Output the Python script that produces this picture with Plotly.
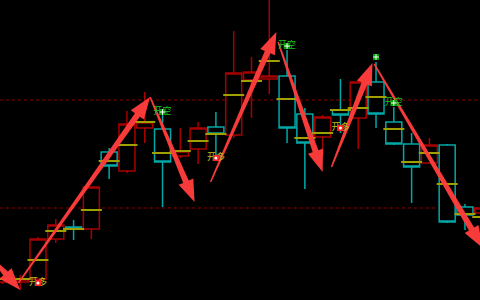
import numpy as np
import plotly.graph_objects as go

# ---- data (bar index, prices) ----
bars = list(range(1, 29))
opens  = [18, 18, 21, 61, 73, 71, 148, 129, 172, 171, 144, 151, 173, 165, 220, 221, 224, 186, 163, 190, 182, 218, 178, 156, 137, 155, 93, 87]
highs  = [24, 25, 63, 81, 80, 114, 152, 189, 208, 185, 172, 178, 188, 269, 243, 310, 250, 192, 185, 221, 220, 238, 193, 167, 162, 156, 96, 95]
lows   = [16, 10, 20, 57, 60, 61, 121, 127, 157, 93, 142, 136, 143, 162, 182, 206, 157, 111, 145, 167, 151, 172, 155, 97, 136, 77, 70, 84]
closes = [22, 21, 61, 75, 72, 113, 134, 176, 178, 138, 149, 172, 166, 227, 228, 224, 172, 157, 183, 185, 218, 186, 156, 133, 155, 78, 85, 92]
mid_line = [21, 21, 40, 69, 71, 90, 139, 155, 178, 147, 149, 159, 166, 205, 219, 239, 201, 162, 167, 190, 192, 203, 171, 138, 147, 116, 86, 83]

levels = [200, 92]

long_bars = [3, 13, 20]
long_prices = [17, 142, 172]
short_bars = [10, 17, 23]
short_prices = [188, 254, 197]
extra_short_bars = [22]
extra_short_prices = [243]

arrow_x0 = [0.4, 1.9, 9.3, 12.7, 16.5, 19.5, 21.9]
arrow_p0 = [42, 17, 203, 118, 258, 133, 236]
arrow_x1 = [2.0, 9.3, 11.8, 16.4, 19.0, 21.8, 28.0]
arrow_p1 = [10, 203, 98, 268, 128, 237, 52]

# ---- layout geometry ----
W, H = 480, 300
XR = [0.864, 27.845]
YR = [0, 300]

def to_px(x, p):
    return ((x - XR[0]) / (XR[1] - XR[0]) * W, (p - YR[0]) / (YR[1] - YR[0]) * H)

def from_px(px, py):
    return (XR[0] + px / W * (XR[1] - XR[0]), YR[0] + py / H * (YR[1] - YR[0]))

fig = go.Figure()

fig.add_trace(go.Candlestick(
    x=bars, open=opens, high=highs, low=lows, close=closes,
    increasing=dict(line=dict(color='#a80000', width=1.5), fillcolor='#000000'),
    decreasing=dict(line=dict(color='#00a8a8', width=1.5), fillcolor='#000000'),
    whiskerwidth=0, hoverinfo='skip', showlegend=False))

fig.add_trace(go.Scatter(
    x=bars, y=mid_line, mode='markers',
    marker=dict(symbol='line-ew', size=15, line=dict(color='#a0a000', width=2)),
    hoverinfo='skip', showlegend=False))

# arrows as tapered polygons
w0, w1, hl, hw = 1.5, 6.0, 22.0, 8.0
for x0, p0, x1, p1 in zip(arrow_x0, arrow_p0, arrow_x1, arrow_p1):
    sx, sy = to_px(x0, p0)
    tx, ty = to_px(x1, p1)
    d = np.array([tx - sx, ty - sy])
    L = np.hypot(*d)
    u = d / L
    n = np.array([-u[1], u[0]])
    s = np.array([sx, sy])
    t = np.array([tx, ty])
    b = t - u * hl
    pts = [s + n * w0 / 2, b + n * w1 / 2, b + n * hw, t, b - n * hw, b - n * w1 / 2, s - n * w0 / 2, s + n * w0 / 2]
    xs, ys = zip(*[from_px(*pt) for pt in pts])
    fig.add_trace(go.Scatter(x=xs, y=ys, mode='lines', fill='toself',
                             fillcolor='rgba(255,60,60,0.97)', line=dict(width=0, color='rgba(255,60,60,0.97)'),
                             hoverinfo='skip', showlegend=False))

# signal labels
fig.add_trace(go.Scatter(
    x=long_bars, y=long_prices, mode='text', text=['开多'] * len(long_bars),
    textfont=dict(family='Noto Sans CJK SC', size=9, color='#c0c020'),
    hoverinfo='skip', showlegend=False))
fig.add_trace(go.Scatter(
    x=long_bars, y=long_prices, mode='markers',
    marker=dict(symbol='square', size=6, color='#ff2020', line=dict(width=0)),
    hoverinfo='skip', showlegend=False))
fig.add_trace(go.Scatter(
    x=long_bars, y=long_prices, mode='markers',
    marker=dict(symbol='circle', size=3, color='#ffffff'),
    hoverinfo='skip', showlegend=False))

fig.add_trace(go.Scatter(
    x=short_bars, y=short_prices, mode='text', text=['开空'] * len(short_bars),
    textfont=dict(family='Noto Sans CJK SC', size=9, color='#20c020'),
    hoverinfo='skip', showlegend=False))
fig.add_trace(go.Scatter(
    x=short_bars + extra_short_bars, y=short_prices + extra_short_prices, mode='markers',
    marker=dict(symbol='square', size=6, color='#00a000', line=dict(width=0)),
    hoverinfo='skip', showlegend=False))
fig.add_trace(go.Scatter(
    x=short_bars + extra_short_bars, y=short_prices + extra_short_prices, mode='markers',
    marker=dict(symbol='cross-thin', size=4, color='#ffffff', line=dict(width=1, color='#ffffff')),
    hoverinfo='skip', showlegend=False))

shapes = [dict(type='line', xref='paper', x0=0, x1=1, yref='y', y0=lv, y1=lv,
               line=dict(color='#8b0000', width=1, dash='dot'), layer='below') for lv in levels]

fig.update_layout(
    width=W, height=H, margin=dict(l=0, r=0, t=0, b=0),
    paper_bgcolor='#000000', plot_bgcolor='#000000',
    boxgap=0.1, boxgroupgap=0,
    shapes=shapes, showlegend=False,
    xaxis=dict(range=XR, visible=False, rangeslider=dict(visible=False), fixedrange=True),
    yaxis=dict(range=YR, visible=False, fixedrange=True),
)

fig.write_html('out.html', config={'displayModeBar': False})
